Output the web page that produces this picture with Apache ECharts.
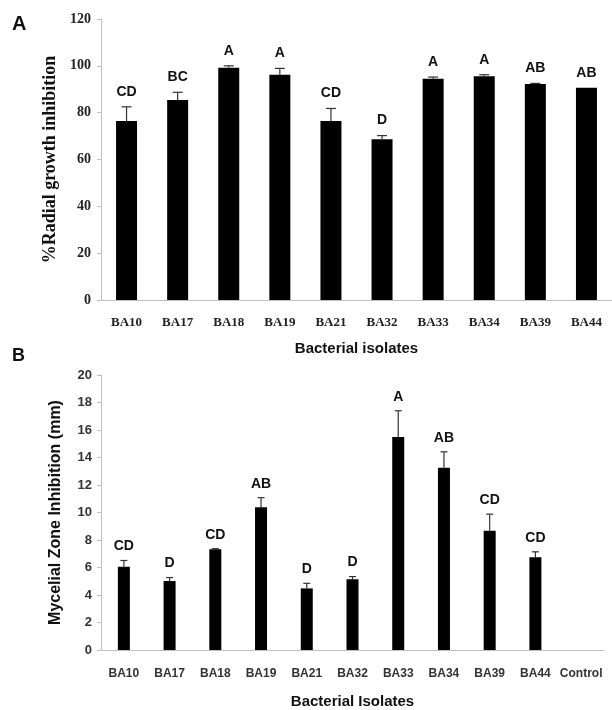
<!DOCTYPE html>
<html>
<head>
<meta charset="utf-8">
<script src="https://cdn.jsdelivr.net/npm/echarts@6/dist/echarts.min.js"></script>
<style>
html,body{margin:0;padding:0;background:#fff;}
#c{width:612px;height:710px;}
</style>
</head>
<body>
<div id="c"></div>
<script>
// Panel A data
const catsA = ['BA10','BA17','BA18','BA19','BA21','BA32','BA33','BA34','BA39','BA44'];
const meanA = [76.4, 85.4, 99.2, 96.2, 76.4, 68.6, 94.5, 95.5, 92.2, 90.6];
const errA = [6.1, 3.3, 0.8, 2.7, 5.4, 1.6, 0.7, 0.7, 0.3, 0];
const lettersA = ['CD','BC','A','A','CD','D','A','A','AB','AB'];
const ticksA = [0, 20, 40, 60, 80, 100, 120];

// Panel B data
const catsB = ['BA10','BA17','BA18','BA19','BA21','BA32','BA33','BA34','BA39','BA44','Control'];
const meanB = [6.06, 5.02, 7.32, 10.38, 4.48, 5.14, 15.5, 13.26, 8.68, 6.74, null];
const errB = [0.45, 0.25, 0.05, 0.7, 0.37, 0.2, 1.9, 1.15, 1.2, 0.4, null];
const lettersB = ['CD','D','CD','AB','D','D','A','AB','CD','CD',''];
const ticksB = [0, 2, 4, 6, 8, 10, 12, 14, 16, 18, 20];

const chart = echarts.init(document.getElementById('c'), null, {renderer:'canvas'});

function errRenderer(letters, capHalf, letterGap, font) {
  return function (params, api) {
    const i = api.value(0);
    const m = api.value(1);
    const e = api.value(2);
    if (m == null || isNaN(m)) return null;
    const p0 = api.coord([i, m]);
    const p1 = api.coord([i, m + (e || 0)]);
    const children = [];
    if (e > 0) {
      children.push({type:'line', shape:{x1:p0[0], y1:p0[1], x2:p1[0], y2:p1[1]}, style:{stroke:'#333', lineWidth:1.2}});
      children.push({type:'line', shape:{x1:p1[0]-capHalf, y1:p1[1], x2:p1[0]+capHalf, y2:p1[1]}, style:{stroke:'#333', lineWidth:1.2}});
    }
    const t = letters[params.dataIndex];
    if (t) {
      children.push({type:'text', x:p1[0], y:p1[1]-letterGap, style:{text:t, align:'center', verticalAlign:'middle', fill:'#111', font:font}});
    }
    return {type:'group', children:children};
  };
}

const axisGray = '#c0c0c0';

const option = {
  animation: false,
  backgroundColor: '#fff',
  graphic: [
    {type:'text', left:12, top:14, style:{text:'A', font:'bold 20px "Liberation Sans"', fill:'#111'}},
    {type:'text', left:12, top:347, style:{text:'B', font:'bold 18px "Liberation Sans"', fill:'#111'}}
  ],
  grid: [
    {left:101, right:-6, top:19, bottom:410},
    {left:101, right:8, top:375, bottom:60}
  ],
  xAxis: [
    {
      type:'category', gridIndex:0, data:catsA,
      axisLine:{lineStyle:{color:axisGray, width:1}},
      axisTick:{show:false},
      axisLabel:{margin:16, color:'#222', fontFamily:'Liberation Serif', fontWeight:'bold', fontSize:13, interval:0},
      name:'Bacterial isolates', nameLocation:'middle', nameGap:41,
      nameTextStyle:{fontFamily:'Liberation Sans', fontWeight:'bold', fontSize:15, color:'#111'}
    },
    {
      type:'category', gridIndex:1, data:catsB,
      axisLine:{lineStyle:{color:axisGray, width:1}},
      axisTick:{show:false},
      axisLabel:{margin:18, color:'#333', fontFamily:'Liberation Sans', fontWeight:'bold', fontSize:12, interval:0},
      name:'Bacterial Isolates', nameLocation:'middle', nameGap:44,
      nameTextStyle:{fontFamily:'Liberation Sans', fontWeight:'bold', fontSize:15, color:'#111'}
    }
  ],
  yAxis: [
    {
      type:'value', gridIndex:0, min:ticksA[0], max:ticksA[ticksA.length-1], interval:ticksA[1]-ticksA[0],
      axisLine:{show:true, lineStyle:{color:axisGray, width:1}},
      axisTick:{show:true, length:4, lineStyle:{color:axisGray}},
      splitLine:{show:false},
      axisLabel:{margin:10, color:'#222', fontFamily:'Liberation Serif', fontWeight:'bold', fontSize:14},
      name:'%Radial growth inhibition', nameLocation:'middle', nameGap:36,
      nameTextStyle:{fontFamily:'Liberation Serif', fontWeight:'bold', fontSize:18, color:'#111'}
    },
    {
      type:'value', gridIndex:1, min:ticksB[0], max:ticksB[ticksB.length-1], interval:ticksB[1]-ticksB[0],
      axisLine:{show:true, lineStyle:{color:axisGray, width:1}},
      axisTick:{show:true, length:4, lineStyle:{color:axisGray}},
      splitLine:{show:false},
      axisLabel:{margin:9, color:'#333', fontFamily:'Liberation Sans', fontWeight:'bold', fontSize:13},
      name:'Mycelial Zone Inhibition (mm)', nameLocation:'middle', nameGap:37,
      nameTextStyle:{fontFamily:'Liberation Sans', fontWeight:'bold', fontSize:16, color:'#111'}
    }
  ],
  series: [
    {type:'bar', xAxisIndex:0, yAxisIndex:0, data:meanA, barWidth:21, itemStyle:{color:'#000'}},
    {type:'custom', xAxisIndex:0, yAxisIndex:0, z:5,
     renderItem: errRenderer(lettersA, 5, 15, 'bold 14px "Liberation Sans"'),
     data: meanA.map((v,i)=>[i, v, errA[i]])},
    {type:'bar', xAxisIndex:1, yAxisIndex:1, data:meanB, barWidth:12, itemStyle:{color:'#000'}},
    {type:'custom', xAxisIndex:1, yAxisIndex:1, z:5,
     renderItem: errRenderer(lettersB, 3.5, 14, 'bold 14px "Liberation Sans"'),
     data: meanB.map((v,i)=>[i, v, errB[i]])}
  ]
};
chart.setOption(option);
</script>
</body>
</html>
